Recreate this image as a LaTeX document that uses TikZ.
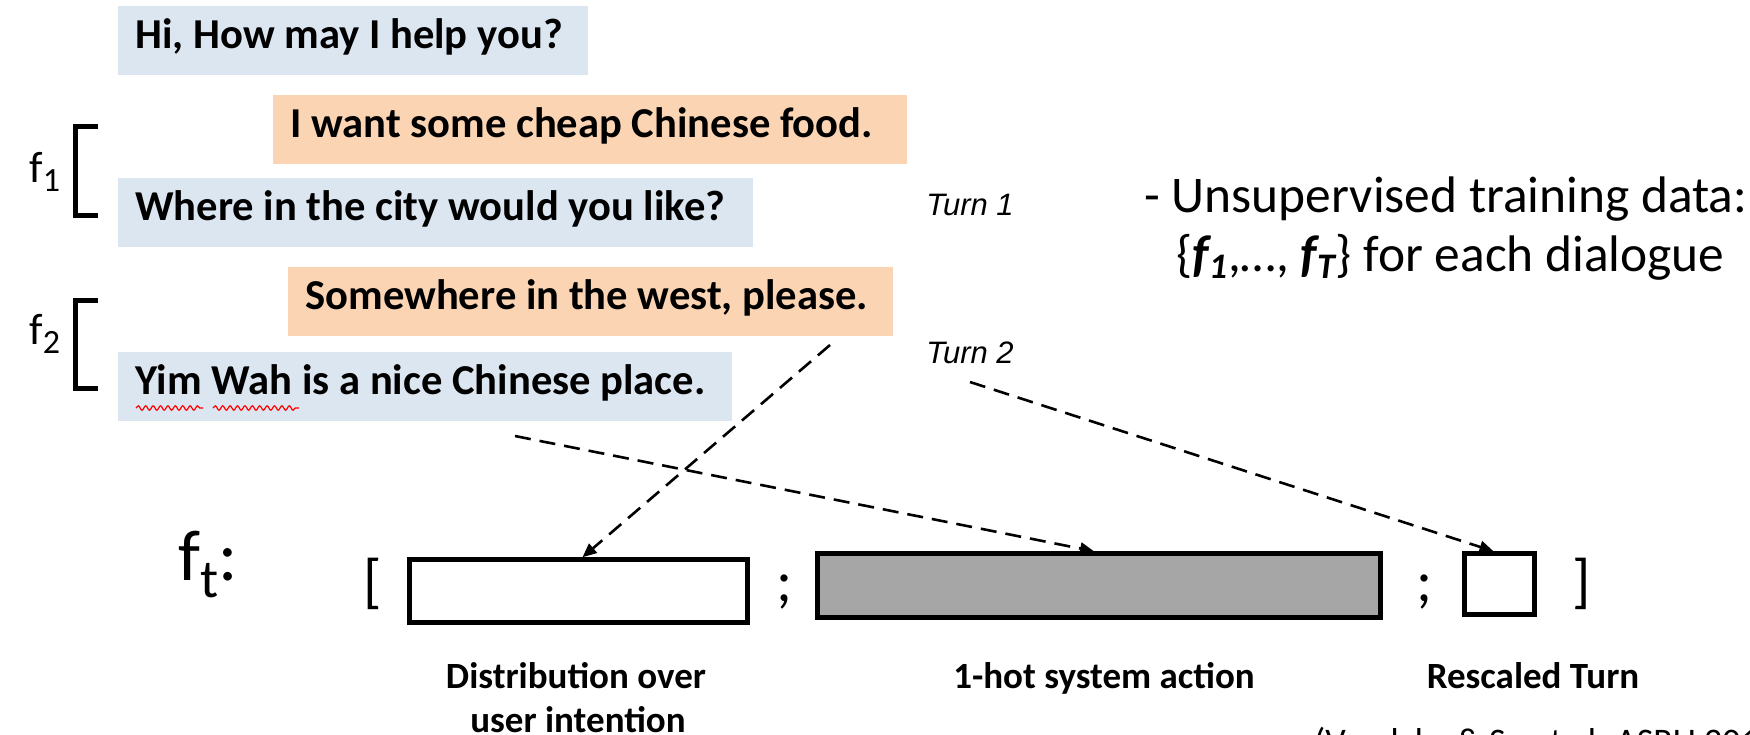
\documentclass[tikz,border=0pt]{standalone}
\usepackage{fontspec}
\setmainfont{Carlito}
\newfontfamily\turnfont{Liberation Sans}
\usetikzlibrary{arrows.meta,decorations.pathmorphing}
\definecolor{ublue}{HTML}{DCE6F1}
\definecolor{uorange}{HTML}{FBD4B4}
\definecolor{ugray}{HTML}{A6A6A6}
\newcommand{\bfitsub}[2]{\textbf{\textit{#1\textsubscript{#2}}}}
\newcommand{\utext}[2]{\makebox[#1][l]{#2}}
\begin{document}
\begin{tikzpicture}[x=0.5pt,y=-0.5pt,
  utt/.style={anchor=north west, inner xsep=8.5pt, inner ysep=0pt,
    font=\fontsize{21.3}{25}\selectfont\bfseries, text height=0.95em, text depth=0.175em,
    minimum height=34.5pt},
  sysutt/.style={utt, fill=ublue},
  usrutt/.style={utt, fill=uorange},
  brk/.style={line width=2.5pt, line join=miter},
  flab/.style={anchor=base west, inner sep=0pt, font=\fontsize{22}{26}\selectfont},
  turnlab/.style={anchor=base west, inner sep=0pt, font=\turnfont\itshape\fontsize{15.5}{18}\selectfont},
  notelab/.style={anchor=base west, inner sep=0pt, font=\fontsize{25.7}{30}\selectfont},
  vec/.style={draw, line width=2.25pt, inner sep=0pt},
  sym/.style={anchor=base west, inner sep=0pt, font=\fontsize{30}{30}\selectfont},
  veclab/.style={anchor=base, inner sep=0pt, font=\fontsize{18.5}{22}\selectfont\bfseries},
  conn/.style={dash pattern=on 8pt off 4.5pt, line width=1.3pt, -{Triangle[length=7pt,width=6pt]}},
  squig/.style={red, line width=0.6pt, decorate, decoration={snake, amplitude=1.1pt, segment length=3.7pt}}
]
\useasboundingbox (0,0) rectangle (1750,734);
\clip (0,0) rectangle (1750,734);

% dialogue turns
\node[sysutt] (u1) at (118,6) {\utext{218pt}{Hi, How may I help you?}};
\node[usrutt] (u2) at (273,95) {\utext{300pt}{I want some cheap Chinese food.}};
\node[sysutt] (u3) at (118,178) {\utext{300.5pt}{Where in the city would you like?}};
\node[usrutt] (u4) at (288,267) {\utext{285.5pt}{Somewhere in the west, please.}};
\node[sysutt] (u5) at (118,352) {\utext{290pt}{Yim Wah is a nice Chinese place.}};
\draw[squig] (136,408) -- (203,408);
\draw[squig] (213,408) -- (299,408);

% brackets and labels
\draw[brk] (98,126.5) -- (75.5,126.5) -- (75.5,215.5) -- (98,215.5);
\draw[brk] (98,300.5) -- (75.5,300.5) -- (75.5,388.5) -- (98,388.5);
\node[flab] (f1) at (29,182) {f\raisebox{-4.5pt}{\fontsize{17}{17}\selectfont 1}};
\node[flab] (f2) at (29,344) {f\raisebox{-4.5pt}{\fontsize{17}{17}\selectfont 2}};

\node[turnlab] (t1) at (926,215) {Turn 1};
\node[turnlab] (t2) at (926,363) {Turn 2};

\node[notelab] (n1) at (1144,212) {- Unsupervised training data:};
\node[notelab] (n2) at (1176,271) {\{\bfitsub{f}{1},…, \bfitsub{f}{T}\} for each dialogue};

% feature vector
\node[flab, font=\fontsize{36}{36}\selectfont] (ft) at (178,580) {f\raisebox{-8.5pt}{\fontsize{27}{27}\selectfont t}:};
\node[sym] (lb) at (363,601) {[};
\node[vec, fill=white, minimum width=169pt, minimum height=31.5pt] (dist) at (578.5,591) {};
\node[sym] (sc1) at (776,601) {;};
\node[vec, fill=ugray, minimum width=281.5pt, minimum height=32pt] (act) at (1099,585.5) {};
\node[sym] (sc2) at (1416,601) {;};
\node[vec, fill=white, minimum width=35pt, minimum height=30.5pt] (turn) at (1499.5,584) {};
\node[sym] (rb) at (1572,601) {]};

\node[veclab] (l1) at (576,688) {Distribution over};
\node[veclab] (l1b) at (578,732) {user intention};
\node[veclab] (l2) at (1104,688) {1-hot system action};
\node[veclab] (l3) at (1533,688) {Rescaled Turn};

\node[anchor=base west, inner sep=0pt, font=\fontsize{18}{20}\selectfont] (cite) at (1314,753) {(Vandyke \& Su et al. ASRU 2015)};

% connectors
\coordinate (sA) at (830,345);
\coordinate (sB) at (515,436);
\coordinate (sC) at (970,382);
\draw[conn] (sA) -- ([xshift=2pt]dist.north);
\draw[conn] (sB) -- ([xshift=-2.5pt]act.north);
\draw[conn] (sC) -- ([xshift=-3pt]turn.north);
\end{tikzpicture}
\end{document}
